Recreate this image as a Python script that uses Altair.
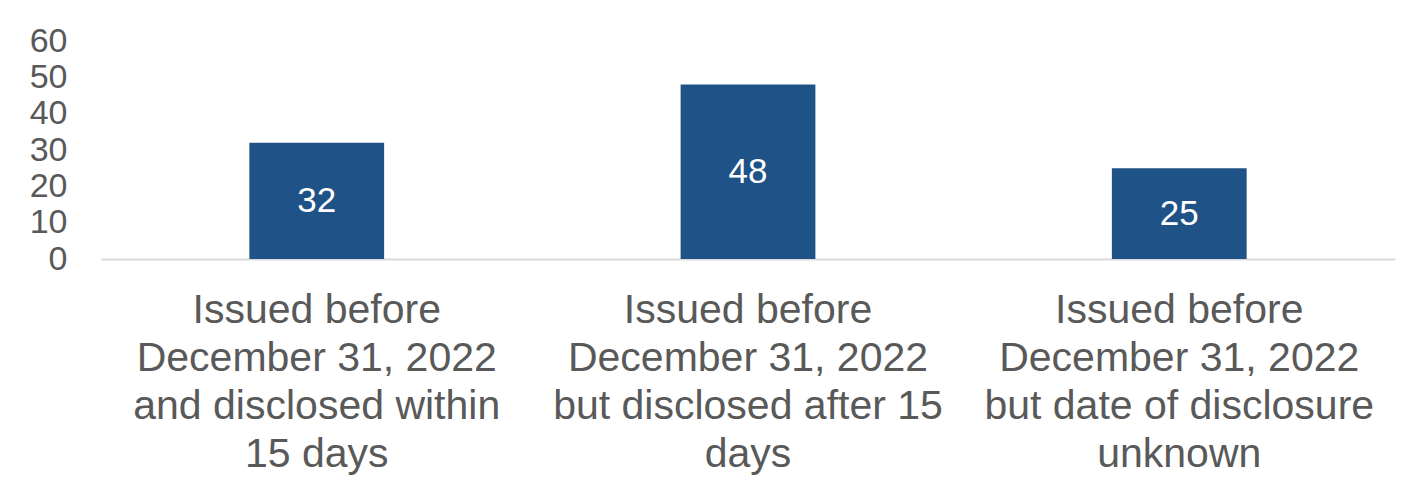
import altair as alt
import pandas as pd

categories = [
    "Issued before|December 31, 2022|and disclosed within|15 days",
    "Issued before|December 31, 2022|but disclosed after 15|days",
    "Issued before|December 31, 2022|but date of disclosure|unknown",
]
values = [32, 48, 25]
y_ticks = [0, 10, 20, 30, 40, 50, 60]

df = pd.DataFrame({"cat": categories, "val": values})
df["mid"] = df["val"] / 2

FONT = "Liberation Sans"
GRAY = "#595959"

xenc = dict(
    sort=categories,
    scale=alt.Scale(paddingInner=0.6875, paddingOuter=0.344),
    title=None,
)
yscale = alt.Scale(domain=[0, 60], nice=False)

bars = alt.Chart(df).mark_bar(color="#1F5287").encode(
    x=alt.X("cat:N", **xenc),
    y=alt.Y("val:Q", scale=yscale, title=None, axis=alt.Axis(values=y_ticks)),
)

text = alt.Chart(df).mark_text(
    color="white", fontSize=35, font=FONT, baseline="middle", align="center"
).encode(
    x=alt.X("cat:N", **xenc),
    y=alt.Y("mid:Q", scale=yscale, title=None, axis=alt.Axis(values=y_ticks)),
    text=alt.Text("val:Q"),
)

chart = (
    alt.layer(bars, text)
    .properties(
        width=1294,
        height=218,
        autosize=alt.AutoSizeParams(type="none"),
        padding={"left": 93, "top": 33, "right": 6, "bottom": 220},
        background="white",
    )
    .configure_view(stroke=None)
    .configure_axisX(
        labelAngle=0,
        labelExpr="split(datum.label, '|')",
        labelFontSize=41,
        labelLineHeight=48,
        labelColor=GRAY,
        labelFont=FONT,
        labelPadding=31,
        labelBaseline="top",
        ticks=False,
        domainColor="#D9D9D9",
        domainWidth=2,
        labelLimit=600,
        grid=False,
    )
    .configure_axisY(
        grid=False,
        domain=False,
        ticks=False,
        labelFontSize=34,
        labelColor=GRAY,
        labelFont=FONT,
        labelPadding=34,
        labelOverlap=False,
    )
)

chart.save("out.html", embed_options={"renderer": "svg", "actions": False})
